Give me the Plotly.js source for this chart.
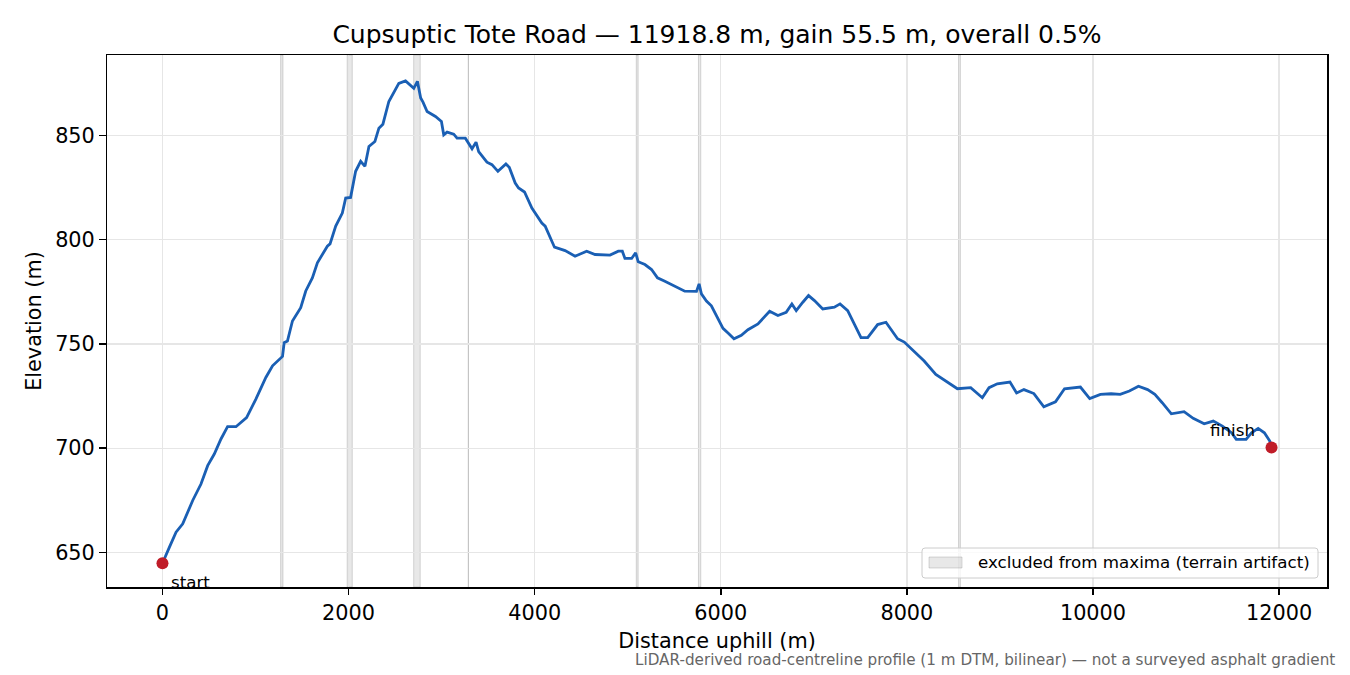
<!DOCTYPE html>
<html>
<head>
<meta charset="utf-8">
<script src="https://cdn.plot.ly/plotly-3.0.1.min.js"></script>
<style>
  html, body { margin: 0; padding: 0; background: #fff; }
  #chart { width: 1350px; height: 675px; }
</style>
</head>
<body>
<div id="chart"></div>
<script>
// profile (distance along road, m / elevation, m)
const dist = [
  0, 40, 75, 146, 218, 325, 414, 486, 557, 629, 700, 790, 843, 904, 1004, 1111, 1183, 1254, 1290,
  1308, 1343, 1397, 1486, 1540, 1611, 1665, 1719, 1772, 1801, 1862, 1933, 1969, 2022, 2076, 2130,
  2176, 2219, 2283, 2326, 2369, 2433, 2540, 2612, 2701, 2740, 2775, 2800, 2844, 2934, 2998, 3023,
  3059, 3130, 3166, 3255, 3327, 3370, 3398, 3487, 3541, 3605, 3691, 3727, 3791, 3827, 3891, 3970,
  4077, 4113, 4213, 4327, 4434, 4559, 4649, 4810, 4899, 4942, 4970, 5042, 5085, 5113, 5185, 5256,
  5320, 5399, 5506, 5613, 5739, 5767, 5792, 5846, 5899, 5971, 6024, 6078, 6142, 6221, 6292, 6400,
  6525, 6614, 6703, 6764, 6811, 6882, 6943, 7007, 7096, 7221, 7282, 7364, 7507, 7579, 7686, 7775,
  7900, 7972, 8079, 8186, 8311, 8436, 8543, 8686, 8758, 8811, 8883, 8972, 9108, 9179, 9258, 9365,
  9472, 9597, 9694, 9865, 9965, 10080, 10195, 10293, 10391, 10489, 10587, 10665, 10744, 10842,
  10979, 11077, 11195, 11293, 11391, 11489, 11540, 11645, 11704, 11775, 11842, 11900, 11918.8
];
const elev = [
  644.8, 648.6, 652.5, 659.7, 663.7, 674.9, 682.8, 691.6, 697.2, 704.4, 710.3, 710.3, 712.4, 714.7,
  723.5, 733.9, 739.5, 742.7, 744.0, 750.6, 751.4, 761.0, 767.4, 775.4, 781.7, 788.9, 793.2, 796.9,
  798.0, 806.5, 812.8, 820.0, 820.3, 832.8, 837.6, 835.2, 844.7, 847.1, 853.5, 855.4, 866.3, 875.0,
  876.2, 872.6, 876.0, 868.0, 866.0, 861.5, 859.1, 856.7, 850.3, 851.6, 850.6, 848.7, 848.7, 843.6,
  846.8, 842.3, 837.2, 836.0, 832.8, 836.3, 834.7, 827.2, 824.8, 822.9, 815.2, 808.0, 806.5, 796.4,
  794.8, 792.1, 794.5, 792.9, 792.6, 794.5, 794.5, 791.0, 791.0, 793.7, 789.4, 788.1, 785.7, 781.7,
  780.1, 777.7, 775.3, 775.2, 778.8, 774.0, 770.6, 768.3, 762.3, 757.5, 755.2, 752.5, 754.1, 756.8,
  759.6, 765.7, 763.6, 765.2, 769.2, 766.0, 770.0, 773.2, 770.8, 766.8, 767.6, 769.2, 766.0, 753.0,
  753.0, 759.3, 760.4, 752.5, 750.9, 746.1, 741.8, 735.4, 731.7, 728.5, 729.0, 726.2, 724.2, 729.0,
  730.9, 731.7, 726.5, 728.1, 726.2, 719.8, 722.2, 728.5, 729.3, 723.8, 725.8, 726.1, 725.8, 727.4,
  729.7, 728.1, 725.8, 721.8, 716.5, 717.5, 714.3, 711.7, 713.0, 710.6, 707.4, 704.2, 704.2, 707.4,
  709.5, 707.4, 703.4, 700.3
];

// stretches flagged as terrain artifacts
const bandStart = [1270, 1985, 2700, 3287, 5092, 5760, 8555];
const bandEnd   = [1295, 2040, 2770, 3288, 5112, 5785, 8575];

const xTicks = [0, 2000, 4000, 6000, 8000, 10000, 12000];
const yTicks = [650, 700, 750, 800, 850];

const titleText = 'Cupsuptic Tote Road — 11918.8 m, gain 55.5 m, overall 0.5%';
const legendText = 'excluded from maxima (terrain artifact)';
const footnote = 'LiDAR-derived road-centreline profile (1 m DTM, bilinear) — not a surveyed asphalt gradient';

const font = 'DejaVu Sans, sans-serif';
const last = dist.length - 1;

// plot box in pixels, used to place the hand-drawn legend
const box = { l: 107, r: 1327, t: 55, b: 587 };
const px = (x) => (x - box.l) / (box.r - box.l);
const py = (y) => (box.b - y) / (box.b - box.t);

const bandFill = 'rgba(128,128,128,0.18)';
const bandEdge = 'rgba(128,128,128,0.3)';

const bands = bandStart.map((x0, i) => ({
  type: 'rect',
  xref: 'x', yref: 'paper',
  x0: x0, x1: bandEnd[i],
  y0: 0, y1: 1,
  fillcolor: bandFill,
  line: { color: bandEdge, width: 1 },
  layer: 'between',
}));

// legend frame + patch (matplotlib-style, lower right)
function roundedBox(x0, y0, x1, y1, r) {
  return `M${px(x0 + r)},${py(y0)} L${px(x1 - r)},${py(y0)} Q${px(x1)},${py(y0)} ${px(x1)},${py(y0 + r)} ` +
    `L${px(x1)},${py(y1 - r)} Q${px(x1)},${py(y1)} ${px(x1 - r)},${py(y1)} ` +
    `L${px(x0 + r)},${py(y1)} Q${px(x0)},${py(y1)} ${px(x0)},${py(y1 - r)} ` +
    `L${px(x0)},${py(y0 + r)} Q${px(x0)},${py(y0)} ${px(x0 + r)},${py(y0)} Z`;
}

const legendShapes = [
  {
    type: 'path', xref: 'paper', yref: 'paper',
    path: roundedBox(922, 548, 1318, 578, 3),
    fillcolor: 'rgba(255,255,255,0.8)',
    line: { color: '#cccccc', width: 1 },
    layer: 'above',
  },
  {
    type: 'rect', xref: 'paper', yref: 'paper',
    x0: px(929), x1: px(962), y0: py(568), y1: py(557),
    fillcolor: bandFill,
    line: { color: bandEdge, width: 1 },
    layer: 'above',
  },
];

const traces = [
  {
    x: dist, y: elev,
    type: 'scatter', mode: 'lines',
    line: { color: '#1a5fb4', width: 2.8 },
  },
  {
    x: [dist[0], dist[last]], y: [elev[0], elev[last]],
    type: 'scatter', mode: 'markers',
    marker: { color: '#c01c28', size: 12 },
  },
];

const layout = {
  width: 1350,
  height: 675,
  margin: { l: box.l, r: 1350 - box.r, t: box.t, b: 675 - box.b },
  paper_bgcolor: '#fff',
  plot_bgcolor: '#fff',
  font: { family: font, size: 20.8, color: '#000' },
  showlegend: false,
  title: {
    text: titleText,
    font: { family: font, size: 25, color: '#000' },
    x: 0.5, xref: 'paper',
    y: 1 - 34 / 675, yanchor: 'middle',
  },
  xaxis: {
    range: [-596, 12515],
    tickvals: xTicks,
    ticktext: xTicks.map(String),
    ticks: 'outside', ticklen: 6.5, tickwidth: 1.5, tickcolor: '#000',
    showline: true, mirror: true, linecolor: '#000', linewidth: 1.5,
    showgrid: true, gridcolor: '#e6e6e6', gridwidth: 1.3,
    zeroline: false,
    title: { text: 'Distance uphill (m)', standoff: 9, font: { size: 20.8 } },
  },
  yaxis: {
    range: [633.4, 888.6],
    tickvals: yTicks,
    ticktext: yTicks.map(String),
    ticks: 'outside', ticklen: 6.5, tickwidth: 1.5, tickcolor: '#000',
    showline: true, mirror: true, linecolor: '#000', linewidth: 1.5,
    showgrid: true, gridcolor: '#e6e6e6', gridwidth: 1.3,
    zeroline: false,
    title: { text: 'Elevation (m)', standoff: 8, font: { size: 20.8 } },
  },
  shapes: bands.concat(legendShapes),
  annotations: [
    {
      x: px(976), y: py(562), xref: 'paper', yref: 'paper',
      text: legendText, showarrow: false,
      xanchor: 'left', yanchor: 'middle',
      font: { family: font, size: 16.7, color: '#000' },
    },
    {
      x: dist[0], y: elev[0], xref: 'x', yref: 'y',
      text: 'start', showarrow: false,
      xanchor: 'left', yanchor: 'middle', xshift: 7, yshift: -19,
      font: { family: font, size: 16.7, color: '#000' },
    },
    {
      x: dist[last], y: elev[last], xref: 'x', yref: 'y',
      text: 'finish', showarrow: false,
      xanchor: 'right', yanchor: 'middle', xshift: -15, yshift: 18,
      font: { family: font, size: 16.7, color: '#000' },
    },
    {
      x: px(1337), y: py(660), xref: 'paper', yref: 'paper',
      text: footnote, showarrow: false,
      xanchor: 'right', yanchor: 'middle',
      font: { family: font, size: 15.2, color: '#666666' },
    },
  ],
};

Plotly.newPlot('chart', traces, layout, { displayModeBar: false, staticPlot: true });
</script>
</body>
</html>
